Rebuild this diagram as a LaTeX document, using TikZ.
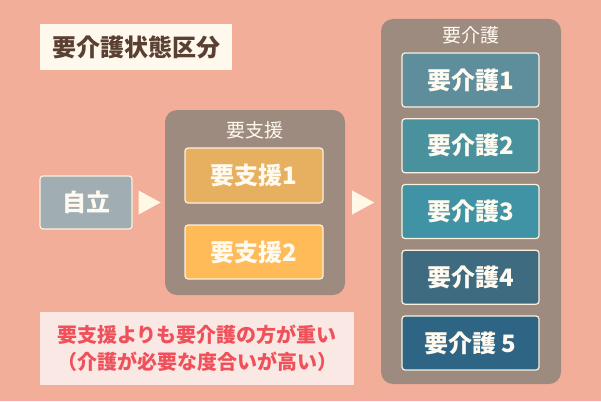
\documentclass[tikz,border=0pt]{standalone}
\usepackage{fontspec}
\setmainfont{Noto Sans CJK JP}
\usetikzlibrary{calc}

\definecolor{bgsalmon}{HTML}{F3AE9A}
\definecolor{titlebg}{HTML}{FFF8EC}
\definecolor{titletext}{HTML}{5A4032}
\definecolor{groupbg}{HTML}{9E8B80}
\definecolor{boxline}{HTML}{FBF1DF}
\definecolor{boxtext}{HTML}{FFFAF0}
\definecolor{jiritsucol}{HTML}{A0AEB3}
\definecolor{shienA}{HTML}{E6B060}
\definecolor{shienB}{HTML}{FEBB58}
\definecolor{kaigoA}{HTML}{5E8D9B}
\definecolor{kaigoB}{HTML}{4A919E}
\definecolor{kaigoC}{HTML}{3F93A4}
\definecolor{kaigoD}{HTML}{3F6B81}
\definecolor{kaigoE}{HTML}{2F6584}
\definecolor{notebg}{HTML}{FAE8E4}
\definecolor{notetext}{HTML}{F0505A}
\definecolor{arrowcol}{HTML}{FFF8E6}

\begin{document}
\begin{tikzpicture}[x=1pt,y=-1pt,
    levelbox/.style={draw=boxline,line width=1.2pt,rounded corners=3pt,
        minimum width=137pt,minimum height=54pt,inner sep=0pt,
        text=boxtext,font=\bfseries\fontsize{24}{28}\selectfont},
    groupbox/.style={fill=groupbg,rounded corners=12pt,inner sep=0pt},
    grouplabel/.style={text=boxtext,font=\fontsize{19}{22}\selectfont},
    flowarrow/.style={fill=arrowcol}]
    % background
    \fill[bgsalmon] (0,0) rectangle (601,401);
    \useasboundingbox (0,0) rectangle (601,401);
    % title
    \node[fill=titlebg,minimum width=192pt,minimum height=46pt,inner sep=0pt,
        text=titletext,font=\bfseries\fontsize{24}{28}\selectfont] (title) at (136,47) {要介護状態区分};
    % groups
    \node[groupbox,minimum width=180pt,minimum height=185pt] (shien) at (255,202.5) {};
    \node[grouplabel] (shienlabel) at (255,130) {要支援};
    \node[groupbox,minimum width=180pt,minimum height=365pt] (kaigo) at (471,201.5) {};
    \node[grouplabel] (kaigolabel) at (471,35) {要介護};
    % boxes
    \node[levelbox,fill=jiritsucol,minimum width=92pt,minimum height=53pt] (jiritsu) at (86,202.5) {自立};
    \node[levelbox,fill=shienA,minimum width=138pt,minimum height=55pt] (shien1) at (254,175.5) {要支援1};
    \node[levelbox,fill=shienB,minimum width=138pt] (shien2) at (254,252) {要支援2};
    \foreach \k/\c/\t in {1/kaigoA/1,2/kaigoB/2,3/kaigoC/3,4/kaigoD/4,5/kaigoE/{ 5}}
        \node[levelbox,fill=\c] (kaigo\k) at (470.5,{80+65.75*(\k-1)}) {要介護\t};
    % arrows
    \fill[flowarrow] ($(jiritsu.east)+(6,-12)$) -- ($(jiritsu.east)+(28,0)$) -- ($(jiritsu.east)+(6,12)$) -- cycle;
    \fill[flowarrow] ($(shien.east)+(7,-12)$) -- ($(shien.east)+(29,0)$) -- ($(shien.east)+(7,12)$) -- cycle;
    % note
    \node[fill=notebg,minimum width=314pt,minimum height=73pt,inner sep=0pt,
        text=notetext,align=center,font=\bfseries\fontsize{20}{27}\selectfont] (note) at (197,348.5)
        {要支援よりも要介護の方が重い\\（介護が必要な度合いが高い）};
\end{tikzpicture}
\end{document}
